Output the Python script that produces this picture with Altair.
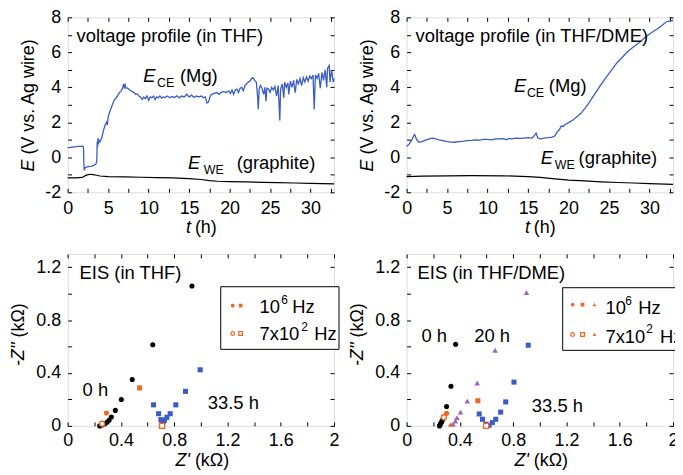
import altair as alt
import pandas as pd

FONT = "Liberation Sans"
BLUE = "#3a5cc6"
ORANGE = "#f26522"
PURPLE = "#9b67b5"

# ---------------- voltage profile, THF ----------------
thf_t = [0.0, 0.3, 0.6, 0.9, 1.2, 1.5, 1.8, 1.95, 2.0, 2.05, 2.15, 2.4, 2.7, 3.0, 3.3, 3.5,
         3.6, 3.65, 3.7, 3.75, 3.8, 3.9, 4.0, 4.2, 4.4, 4.6, 4.8, 4.9, 5.0, 5.2, 5.4, 5.6,
         5.8, 6.0, 6.2, 6.4, 6.6, 6.8, 6.9, 7.0, 7.1, 7.2, 7.4, 7.6, 7.8, 8.0, 8.2, 8.4,
         8.6, 8.8, 9.0, 9.2, 9.4, 9.6, 9.8, 10.0, 10.2, 10.4, 10.6, 10.8, 11.0, 11.2, 11.4,
         11.6, 11.8, 12.0, 12.3, 12.6, 12.9, 13.2, 13.5, 13.8, 14.1, 14.4, 14.7, 15.0, 15.3,
         15.6, 15.9, 16.2, 16.5, 16.8, 17.0, 17.2, 17.4, 17.6, 17.8, 18.1, 18.4, 18.7, 19.0,
         19.3, 19.6, 19.9, 20.1, 20.3, 20.5, 20.7, 20.9, 21.1, 21.3, 21.5, 21.7, 21.9, 22.1,
         22.3, 22.5, 22.7, 22.9, 23.1, 23.3, 23.45, 23.55, 23.65, 23.8, 24.0, 24.2, 24.35,
         24.5, 24.6, 24.8, 25.0, 25.2, 25.4, 25.6, 25.8, 26.0, 26.2, 26.3, 26.5, 26.7, 26.8,
         27.0, 27.2, 27.3, 27.5, 27.7, 27.9, 28.1, 28.3, 28.5, 28.7, 28.9, 29.1, 29.3, 29.5,
         29.7, 29.9, 30.1, 30.3, 30.45, 30.6, 30.8, 31.0, 31.2, 31.4, 31.6, 31.8, 32.0, 32.1,
         32.3, 32.4, 32.6, 32.8, 32.9]
thf_ce = [0.55, 0.56, 0.58, 0.6, 0.62, 0.63, 0.64, 0.6, -0.3, -0.75, -0.6, -0.55, -0.52, -0.5,
          -0.45, -0.38, -0.2, 0.9, 0.6, 1.1, 0.75, 0.95, 0.9, 1.1, 1.5, 1.8, 2.0, 1.85, 2.3,
          2.6, 2.85, 3.1, 3.3, 3.4, 3.55, 3.7, 3.8, 3.95, 4.2, 4.0, 4.15, 3.95, 3.95, 3.88,
          3.8, 3.75, 3.7, 3.6, 3.62, 3.5, 3.45, 3.3, 3.45, 3.35, 3.5, 3.25, 3.45, 3.4, 3.5,
          3.3, 3.45, 3.4, 3.5, 3.38, 3.45, 3.42, 3.5, 3.4, 3.48, 3.42, 3.52, 3.4, 3.5, 3.45,
          3.6, 3.45, 3.55, 3.42, 3.5, 3.45, 3.5, 3.4, 3.45, 3.1, 3.15, 3.5, 3.6, 3.65, 3.7,
          3.6, 3.72, 3.75, 3.7, 3.8, 3.65, 3.85, 3.6, 3.85, 3.9, 3.7, 3.95, 4.0, 3.8, 4.1,
          4.2, 4.3, 4.35, 4.5, 4.55, 4.4, 4.3, 3.5, 2.75, 3.9, 4.1, 3.95, 3.6, 4.0, 3.2, 3.95,
          3.9, 3.7, 4.0, 3.85, 4.05, 3.5, 4.1, 2.1, 3.9, 4.2, 3.4, 4.3, 4.0, 4.25, 3.6, 4.35,
          4.0, 4.4, 3.7, 4.45, 4.2, 4.5, 4.1, 4.55, 4.3, 4.6, 4.35, 4.65, 4.5, 4.7, 2.75, 4.7,
          4.5, 4.8, 3.95, 4.85, 4.4, 5.0, 4.0, 5.1, 5.25, 4.3, 5.0, 4.3, 4.5]
thf_we_t = [0.0, 1.0, 1.8, 2.3, 2.8, 3.3, 4.0, 5.0, 7.0, 9.0, 11.0, 13.0, 15.0, 16.5, 17.5,
            18.5, 20.0, 22.0, 24.0, 26.0, 28.0, 30.0, 32.9]
thf_we = [-1.18, -1.18, -1.15, -1.02, -0.97, -1.0, -1.07, -1.1, -1.12, -1.14, -1.16, -1.18,
          -1.22, -1.27, -1.33, -1.37, -1.39, -1.41, -1.43, -1.45, -1.47, -1.49, -1.52]

# ---------------- voltage profile, THF/DME ----------------
dme_t = [0.0, 0.3, 0.6, 0.8, 0.95, 1.05, 1.2, 1.4, 1.6, 1.9, 2.2, 2.6, 3.0, 3.3, 3.6, 4.0,
         4.5, 5.0, 5.5, 6.0, 6.5, 7.0, 7.5, 8.0, 8.5, 9.0, 9.5, 10.0, 10.5, 11.0, 11.5, 12.0,
         12.3, 12.6, 13.0, 13.5, 14.0, 14.5, 15.0, 15.5, 15.8, 16.0, 16.2, 16.5, 17.0, 17.5,
         18.0, 18.3, 18.6, 18.9, 19.1, 19.3, 19.6, 20.0, 20.5, 21.0, 21.5, 22.0, 22.5, 23.0,
         23.5, 24.0, 24.5, 25.0, 25.5, 26.0, 26.5, 27.0, 27.5, 28.0, 28.5, 29.0, 29.5, 30.0,
         30.5, 31.0, 31.5, 32.0, 32.5, 32.9]
dme_ce = [0.62, 0.75, 0.95, 1.15, 1.3, 1.25, 1.05, 0.92, 0.86, 0.9, 0.95, 1.02, 1.08, 1.1,
          1.05, 1.0, 0.95, 0.9, 0.87, 0.86, 0.9, 0.92, 0.95, 0.97, 1.0, 0.98, 1.02, 1.03, 1.0,
          1.05, 1.05, 1.07, 1.0, 1.08, 1.05, 1.1, 1.08, 1.1, 1.12, 1.1, 1.25, 1.38, 1.1, 1.05,
          1.1, 1.12, 1.15, 1.22, 1.45, 1.6, 1.8, 1.75, 1.88, 1.98, 2.12, 2.3, 2.5, 2.78, 3.1,
          3.45, 3.8, 4.15, 4.48, 4.8, 5.1, 5.42, 5.65, 5.9, 6.12, 6.3, 6.47, 6.66, 6.87, 7.05,
          7.2, 7.35, 7.52, 7.72, 7.8, 7.82]
dme_we_t = [0.0, 2.0, 5.0, 8.0, 12.0, 15.0, 16.5, 18.0, 20.0, 22.0, 24.0, 26.0, 28.0, 30.0, 32.9]
dme_we = [-1.1, -1.08, -1.06, -1.05, -1.06, -1.1, -1.15, -1.22, -1.3, -1.35, -1.4, -1.44,
          -1.47, -1.5, -1.55]

# ---------------- EIS, THF ----------------
thf_0h_zr = [0.241, 0.259, 0.279, 0.296, 0.311, 0.328, 0.358, 0.403, 0.485, 0.639, 0.933]
thf_0h_zi = [0.0, 0.007, 0.017, 0.027, 0.042, 0.067, 0.117, 0.199, 0.351, 0.614, 1.057]
thf_33h_zr = [0.645, 0.683, 0.70, 0.708, 0.718, 0.727, 0.745, 0.77, 0.812, 0.885, 0.995]
thf_33h_zi = [0.159, 0.092, 0.047, 0.02, 0.032, 0.043, 0.065, 0.092, 0.159, 0.261, 0.424]
thf_hf_zr = [0.291, 0.54]
thf_hf_zi = [0.097, 0.287]
thf_hf_shape = ["circle", "square"]
thf_lf_zr = [0.259, 0.709]
thf_lf_zi = [0.017, 0.0]
thf_lf_shape = ["circle", "square"]

# ---------------- EIS, THF/DME ----------------
dme_0h_zr = [0.247, 0.252, 0.257, 0.262, 0.268, 0.30, 0.333, 0.368]
dme_0h_zi = [0.0, 0.01, 0.02, 0.03, 0.042, 0.147, 0.299, 0.617]
dme_20h_zr = [0.348, 0.366, 0.378, 0.405, 0.455, 0.53, 0.664, 0.90]
dme_20h_zi = [0.013, 0.037, 0.062, 0.104, 0.187, 0.323, 0.572, 1.007]
dme_33h_zr = [0.545, 0.57, 0.595, 0.619, 0.644, 0.669, 0.706, 0.744, 0.806, 0.913]
dme_33h_zi = [0.09, 0.05, 0.013, 0.005, 0.025, 0.05, 0.104, 0.181, 0.331, 0.61]
dme_hf_zr = [0.30, 0.33, 0.535]
dme_hf_zi = [0.095, 0.01, 0.19]
dme_hf_shape = ["circle", "triangle-up", "square"]
dme_lf_zr = [0.28, 0.597]
dme_lf_zi = [0.065, 0.0]
dme_lf_shape = ["circle", "square"]

# axis ticks / labels
t_major = [0, 5, 10, 15, 20, 25, 30]
t_all = [0, 2.5, 5, 7.5, 10, 12.5, 15, 17.5, 20, 22.5, 25, 27.5, 30, 32.5]
e_major = [-2, 0, 2, 4, 6, 8]
e_all = [-2, -1, 0, 1, 2, 3, 4, 5, 6, 7, 8]
zr_major = [0, 0.4, 0.8, 1.2, 1.6, 2]
zr_all = [0, 0.2, 0.4, 0.6, 0.8, 1.0, 1.2, 1.4, 1.6, 1.8, 2]
zi_major = [0, 0.4, 0.8, 1.2]
zi_all = [0, 0.2, 0.4, 0.6, 0.8, 1.0, 1.2]

W = 268
HT = 176
HB = 173


def scales(xdom, ydom):
    return (alt.Scale(domain=xdom, nice=False, zero=False),
            alt.Scale(domain=ydom, nice=False, zero=False))


def axis_layers(sx, sy, x0, y0, xmaj, xall, ymaj, yall, xpad=7):
    df = pd.DataFrame({"ax": [x0], "ay": [y0]})
    common = dict(grid=False, domain=False, title=None, labelFlush=False, labelOverlap=False)
    lab = dict(ticks=False, tickSize=0, labelFontSize=18, labelFont=FONT, labelColor="black",
               labelExpr="'' + datum.value")
    tk = dict(labels=False, ticks=True, tickSize=4, offset=-4, tickColor="black", tickWidth=1)
    out = []
    for xa, ya in [
        (alt.Axis(orient="bottom", values=xmaj, labelPadding=xpad, **lab, **common),
         alt.Axis(orient="left", values=ymaj, labelPadding=7, **lab, **common)),
        (alt.Axis(orient="bottom", values=xall, **tk, **common),
         alt.Axis(orient="left", values=yall, **tk, **common)),
        (alt.Axis(orient="top", values=xall, **tk, **common),
         alt.Axis(orient="right", values=yall, **tk, **common)),
    ]:
        out.append(alt.Chart(df).mark_point(opacity=0).encode(
            x=alt.X("ax:Q", scale=sx, axis=xa), y=alt.Y("ay:Q", scale=sy, axis=ya)))
    return out


def txt(s, x, y, size=18.5, style="normal", align="left", angle=0):
    return alt.Chart(pd.DataFrame({"s": [s]})).mark_text(
        align=align, baseline="alphabetic", fontSize=size, fontStyle=style, font=FONT,
        color="black", angle=angle).encode(x=alt.value(x), y=alt.value(y), text="s:N")


def line(xs, ys, sx, sy, color, width):
    df = pd.DataFrame({"t": xs, "E": ys, "i": list(range(len(xs)))})
    return alt.Chart(df).mark_line(color=color, strokeWidth=width).encode(
        x=alt.X("t:Q", scale=sx, axis=None), y=alt.Y("E:Q", scale=sy, axis=None),
        order="i:Q")


def pts(xs, ys, sx, sy, color, shape, size=26, shapes=None, filled=True):
    d = {"zr": xs, "zi": ys}
    if shapes is not None:
        d["shp"] = shapes
    df = pd.DataFrame(d)
    if filled:
        mk = alt.Chart(df).mark_point(filled=True, color=color, size=size, opacity=1,
                                      shape=shape)
    else:
        mk = alt.Chart(df).mark_point(filled=True, fill="white", stroke=color,
                                      strokeWidth=1.4, size=size, opacity=1, shape=shape)
    enc = dict(x=alt.X("zr:Q", scale=sx, axis=None), y=alt.Y("zi:Q", scale=sy, axis=None))
    if shapes is not None:
        enc["shape"] = alt.Shape("shp:N", scale=None)
    return mk.encode(**enc)


def sym(x, y, shape, filled):
    df = pd.DataFrame({"s": [0]})
    if filled:
        mk = alt.Chart(df).mark_point(filled=True, color=ORANGE, size=14, opacity=1, shape=shape)
    else:
        mk = alt.Chart(df).mark_point(filled=True, fill="white", stroke=ORANGE, strokeWidth=1.2,
                                      size=14, opacity=1, shape=shape)
    return mk.encode(x=alt.value(x), y=alt.value(y))


def box(x1, x2, y1, y2):
    return alt.Chart(pd.DataFrame({"s": [0]})).mark_rect(
        fill="white", stroke="black", strokeWidth=1).encode(
        x=alt.value(x1), x2=alt.value(x2), y=alt.value(y1), y2=alt.value(y2))


def e_title():
    return [txt("E", -34, 143, size=18, style="italic", align="right", angle=270),
            txt("(V vs. Ag wire)", -34, 138, size=18, align="left", angle=270)]


def t_title():
    return [txt("t", 124, 217, size=18, style="italic", align="right"),
            txt("(h)", 128, 217, size=18, align="left")]


def z_titles():
    return [txt("-Z''", -44, 89, size=18, style="italic", align="right", angle=270),
            txt("(kΩ)", -44, 84, size=18, align="left", angle=270),
            txt("Z'", 123, 213, size=18, style="italic", align="right"),
            txt("(kΩ)", 128, 213, size=18, align="left")]


def panel(layers, h):
    return alt.layer(*layers).resolve_axis(x="independent", y="independent").properties(
        width=W, height=h)


# ---- top-left ----
sx, sy = scales([0, 32.9], [-2, 8])
tl = panel(axis_layers(sx, sy, 0, -2, t_major, t_all, e_major, e_all) + [
    line(thf_we_t, thf_we, sx, sy, "black", 1.2),
    line(thf_t, thf_ce, sx, sy, BLUE, 1.3),
    txt("voltage profile (in THF)", 9, 25),
    txt("E", 76, 65, style="italic"), txt("CE", 90, 70, size=12.5), txt("(Mg)", 113, 65),
    txt("E", 121, 153, style="italic"), txt("WE", 137, 158, size=12.5), txt("(graphite)", 170, 153),
] + e_title() + t_title(), HT)

# ---- top-right ----
sx, sy = scales([0, 32.9], [-2, 8])
tr = panel(axis_layers(sx, sy, 0, -2, t_major, t_all, e_major, e_all) + [
    line(dme_we_t, dme_we, sx, sy, "black", 1.2),
    line(dme_t, dme_ce, sx, sy, BLUE, 1.3),
    txt("voltage profile (in THF/DME)", 9, 25),
    txt("E", 108, 75, style="italic"), txt("CE", 121, 80, size=12.5), txt("(Mg)", 143, 75),
    txt("E", 135, 148, style="italic"), txt("WE", 149, 153, size=12.5), txt("(graphite)", 173, 148),
] + e_title() + t_title(), HT)

# ---- bottom-left ----
sx, sy = scales([0, 2], [0, 1.3])
bl = panel(axis_layers(sx, sy, 0, 0, zr_major, zr_all, zi_major, zi_all, xpad=6) + [
    pts(thf_0h_zr, thf_0h_zi, sx, sy, "black", "circle"),
    pts(thf_33h_zr, thf_33h_zi, sx, sy, BLUE, "square"),
    pts(thf_hf_zr, thf_hf_zi, sx, sy, ORANGE, "circle", shapes=thf_hf_shape),
    pts(thf_lf_zr, thf_lf_zi, sx, sy, ORANGE, "circle", shapes=thf_lf_shape, filled=False),
    box(154, 273, 33, 96),
    sym(166, 52, "circle", True), sym(174, 52, "square", True),
    sym(166, 80, "circle", False), sym(174, 80, "square", False),
    txt("10", 193, 59), txt("6", 215, 50, size=12), txt("Hz", 226, 59),
    txt("7x10", 193, 87), txt("2", 235, 78, size=12), txt("Hz", 248, 87),
    txt("EIS (in THF)", 12, 25),
    txt("0 h", 15, 143),
    txt("33.5 h", 141, 156),
] + z_titles(), HB)

# ---- bottom-right ----
sx, sy = scales([0, 2], [0, 1.3])
br = panel(axis_layers(sx, sy, 0, 0, zr_major, zr_all, zi_major, zi_all, xpad=6) + [
    pts(dme_0h_zr, dme_0h_zi, sx, sy, "black", "circle"),
    pts(dme_20h_zr, dme_20h_zi, sx, sy, PURPLE, "triangle-up", size=32),
    pts(dme_33h_zr, dme_33h_zi, sx, sy, BLUE, "square"),
    pts(dme_hf_zr, dme_hf_zi, sx, sy, ORANGE, "circle", shapes=dme_hf_shape),
    pts(dme_lf_zr, dme_lf_zi, sx, sy, ORANGE, "circle", shapes=dme_lf_shape, filled=False),
    box(157, 282, 34, 97),
    sym(167, 51, "circle", True), sym(177, 51, "square", True), sym(189, 51, "triangle-up", True),
    sym(167, 81, "circle", False), sym(177, 81, "square", False), sym(189, 81, "triangle-up", True),
    txt("10", 200, 60), txt("6", 220, 51, size=12), txt("Hz", 233, 60),
    txt("7x10", 200, 90), txt("2", 241, 80, size=12), txt("Hz", 255, 90),
    txt("EIS (in THF/DME)", 11, 25),
    txt("0 h", 15, 89),
    txt("20 h", 68, 89),
    txt("33.5 h", 126, 159),
] + z_titles(), HB)

chart = alt.concat(tl, tr, bl, br, columns=2, spacing={"row": 15, "column": 8}).properties(
    padding={"left": 1, "top": -2, "right": -13, "bottom": 0}
).configure_view(stroke="black", strokeWidth=1).configure(background="white")

chart.save("out.html", embed_options={"renderer": "svg", "actions": False})
